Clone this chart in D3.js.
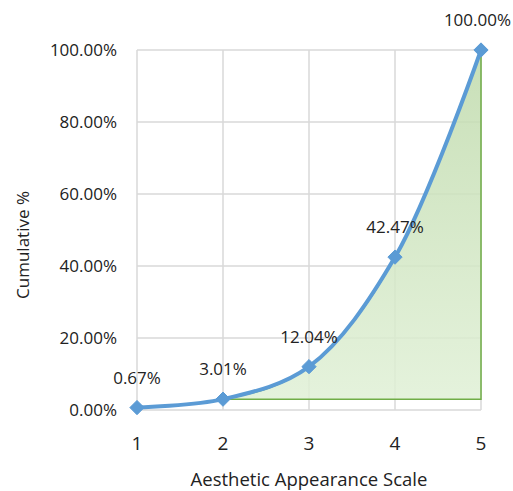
<!DOCTYPE html>
<html><head><meta charset="utf-8">
<script src="https://cdn.jsdelivr.net/npm/d3@7"></script>
<style>body{margin:0;background:#fff}text{font-family:"Open Sans",Lato,sans-serif;fill:#222}</style>
</head><body><svg id="c" width="513" height="491"></svg>
<script>
const categories=[1,2,3,4,5];
const cumulative=[0.67,3.01,12.04,42.47,100.00];
const labels=["0.67%","3.01%","12.04%","42.47%","100.00%"];
const yTicks=[0,20,40,60,80,100];
const areaStart=2;

const W=513;
const svg=d3.select("#c");
const x=d3.scaleLinear().domain([1,5]).range([137,481]);
const y=d3.scaleLinear().domain([0,100]).range([410,50]);

const defs=svg.append("defs");
const g=defs.append("linearGradient").attr("id","gr").attr("x1",0).attr("y1",0).attr("x2",0).attr("y2",1);
g.append("stop").attr("offset","0%").attr("stop-color","#bfdaab");
g.append("stop").attr("offset","100%").attr("stop-color","#e0f0d6");

svg.append("g").selectAll("line").data(yTicks).join("line")
 .attr("x1",x(1)).attr("x2",x(5)).attr("y1",d=>y(d)).attr("y2",d=>y(d))
 .attr("stroke","#d9d9d9").attr("stroke-width",1.5);
svg.append("g").selectAll("line").data(categories).join("line")
 .attr("x1",d=>x(d)).attr("x2",d=>x(d)).attr("y1",y(100)).attr("y2",y(0))
 .attr("stroke","#d9d9d9").attr("stroke-width",1.5);

const pts=categories.map((c,i)=>[c,cumulative[i]]);
const base=cumulative[categories.indexOf(areaStart)];
const areaPts=pts.filter(p=>p[0]>=areaStart);
const area=d3.area().x(d=>x(d[0])).y0(y(base)).y1(d=>y(d[1])).curve(d3.curveMonotoneX);
svg.append("path").datum(areaPts).attr("d",area)
 .attr("fill","url(#gr)").attr("fill-opacity",0.85)
 .attr("stroke","#70ad47").attr("stroke-width",1.5);

const line=d3.line().x(d=>x(d[0])).y(d=>y(d[1])).curve(d3.curveCatmullRom.alpha(0.5));
svg.append("path").datum(pts).attr("d",line).attr("fill","none")
 .attr("stroke","#5b9bd5").attr("stroke-width",4).attr("stroke-linejoin","round");

svg.append("g").selectAll("path").data(pts).join("path")
 .attr("transform",d=>`translate(${x(d[0])},${y(d[1])})`)
 .attr("d",d3.symbol().type(d3.symbolDiamond2).size(130))
 .attr("fill","#5b9bd5").attr("stroke","#5b9bd5").attr("stroke-width",1);

svg.append("g").selectAll("text").data(pts).join("text")
 .attr("x",d=>x(d[0])).attr("y",d=>y(d[1])-24)
 .attr("text-anchor","middle").attr("font-size",17).text((d,i)=>labels[i])
 .each(function(){
   const w=this.getComputedTextLength();
   const cx=+this.getAttribute("x");
   if(cx+w/2>W-2) this.setAttribute("x",W-2-w/2);
 });

svg.append("g").selectAll("text").data(yTicks).join("text")
 .attr("x",117).attr("y",d=>y(d)+6).attr("text-anchor","end").attr("font-size",17)
 .text(d=>d.toFixed(2)+"%");
svg.append("g").selectAll("text").data(categories).join("text")
 .attr("x",d=>x(d)).attr("y",450).attr("text-anchor","middle").attr("font-size",19)
 .text(d=>d);

svg.append("text").attr("x",309).attr("y",486).attr("text-anchor","middle").attr("font-size",18.5)
 .text("Aesthetic Appearance Scale");
svg.append("text").attr("transform","translate(29,245) rotate(-90)").attr("text-anchor","middle").attr("font-size",17)
 .text("Cumulative %");
</script></body></html>
